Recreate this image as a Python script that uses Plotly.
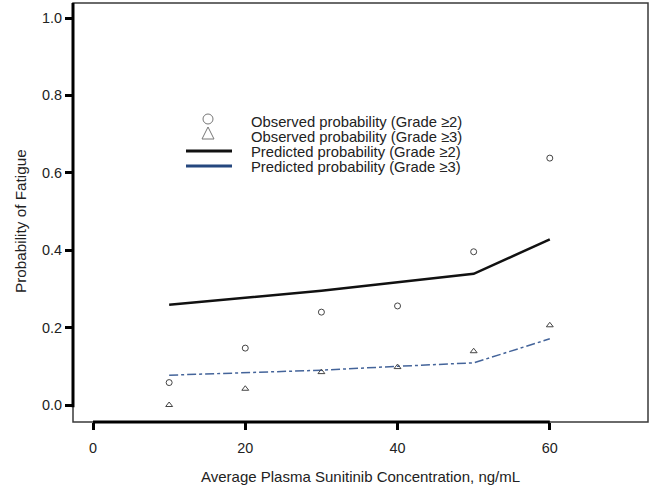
import plotly.graph_objects as go

# ---- data ----
conc = [10, 20, 30, 40, 50, 60]
obs_g2 = [0.058, 0.147, 0.240, 0.256, 0.396, 0.638]
obs_g3 = [0.0, 0.042, 0.085, 0.098, 0.139, 0.206]
pred_g2 = [0.259, 0.277, 0.295, 0.317, 0.339, 0.428]
pred_g3 = [0.077, 0.083, 0.090, 0.100, 0.109, 0.171]
x_ticks = [0, 20, 40, 60]
y_ticks = [0.0, 0.2, 0.4, 0.6, 0.8, 1.0]
y_ticklabels = ["0.0", "0.2", "0.4", "0.6", "0.8", "1.0"]
legend_labels = [
    "Observed probability (Grade \u22652)",
    "Observed probability (Grade \u22653)",
    "Predicted probability (Grade \u22652)",
    "Predicted probability (Grade \u22653)",
]

FONT = "Liberation Sans, Arial, sans-serif"

fig = go.Figure()
fig.add_trace(go.Scatter(x=conc, y=pred_g2, mode="lines",
                         line=dict(color="#111111", width=2.5), showlegend=False))
fig.add_trace(go.Scatter(x=conc, y=pred_g3, mode="lines",
                         line=dict(color="#44649a", width=1.5, dash="dashdot"), showlegend=False))
fig.add_trace(go.Scatter(x=conc, y=obs_g2, mode="markers",
                         marker=dict(symbol="circle-open", size=6, color="#444444", line=dict(width=1)),
                         showlegend=False))
fig.add_trace(go.Scatter(x=conc, y=obs_g3, mode="markers",
                         marker=dict(symbol="triangle-up-open", size=6, color="#444444", line=dict(width=1)),
                         showlegend=False))

# plot area in pixels: x 73..648, y 3..422
def px(x):
    return (x - 73) / 575.0

def py(y):
    return (422 - y) / 419.0

shapes = []
# frame
shapes.append(dict(type="rect", xref="paper", yref="paper", x0=0, x1=1, y0=0, y1=1,
                   line=dict(color="#3a3a3a", width=1.5), layer="above"))
# thick axis lines
shapes.append(dict(type="line", xref="paper", yref="y", x0=0, x1=0, y0=-0.006, y1=1.0388,
                   line=dict(color="black", width=3)))
shapes.append(dict(type="line", xref="x", yref="paper", x0=0, x1=60, y0=0, y1=0,
                   line=dict(color="black", width=3)))
# legend markers
shapes.append(dict(type="circle", xref="paper", yref="paper",
                   x0=px(203), x1=px(213), y0=py(124), y1=py(114),
                   line=dict(color="#777777", width=1)))
shapes.append(dict(type="path", xref="paper", yref="paper",
                   path=f"M {px(202)},{py(139)} L {px(214)},{py(139)} L {px(208)},{py(127)} Z",
                   line=dict(color="#777777", width=1)))
# legend lines
shapes.append(dict(type="line", xref="paper", yref="paper", x0=px(186), x1=px(232), y0=py(151), y1=py(151),
                   line=dict(color="#111111", width=3)))
shapes.append(dict(type="line", xref="paper", yref="paper", x0=px(186), x1=px(232), y0=py(166), y1=py(166),
                   line=dict(color="#25477e", width=3)))

annotations = []
for lab, yy in zip(legend_labels, [122, 137, 152, 167]):
    annotations.append(dict(text=lab, xref="paper", yref="paper", x=px(249), y=py(yy),
                            xanchor="left", yanchor="middle", showarrow=False,
                            font=dict(family=FONT, size=14.8, color="#222222")))
annotations.append(dict(text="Average Plasma Sunitinib Concentration, ng/mL", xref="paper", yref="paper",
                        x=0.5, y=py(476), xanchor="center", yanchor="middle", showarrow=False,
                        font=dict(family=FONT, size=15, color="#222222")))
annotations.append(dict(text="Probability of Fatigue", xref="paper", yref="paper",
                        x=px(21), y=py(221), xanchor="center", yanchor="middle", textangle=-90,
                        showarrow=False, font=dict(family=FONT, size=15.3, color="#222222")))

fig.update_layout(
    width=650, height=488,
    margin=dict(l=73, r=2, t=3, b=66),
    paper_bgcolor="white", plot_bgcolor="white",
    showlegend=False,
    shapes=shapes, annotations=annotations,
    font=dict(family=FONT, size=14, color="#222222"),
)
fig.update_xaxes(range=[-2.63, 72.9], tickvals=x_ticks, ticks="outside", ticklen=7, tickwidth=3,
                 tickcolor="black", showgrid=False, zeroline=False, showline=False,
                 ticklabelstandoff=6, tickfont=dict(family=FONT, size=14.4, color="#222222"))
fig.update_yaxes(range=[-0.0439, 1.0388], tickvals=y_ticks, ticktext=y_ticklabels, ticks="outside",
                 ticklen=7, tickwidth=3, tickcolor="black", showgrid=False, zeroline=False,
                 showline=False, tickfont=dict(family=FONT, size=14.4, color="#222222"))

fig.write_html("out.html", config={"displayModeBar": False},
               post_script="document.body.style.margin='0';document.body.style.padding='0';")
